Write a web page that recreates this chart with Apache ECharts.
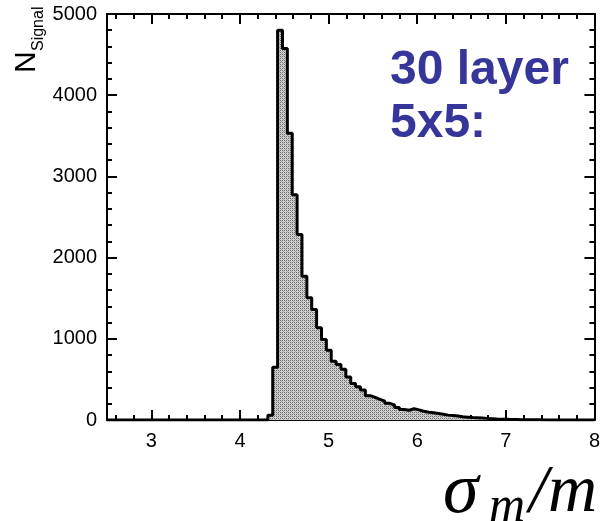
<!DOCTYPE html>
<html>
<head>
<meta charset="utf-8">
<script src="https://cdn.jsdelivr.net/npm/echarts@6/dist/echarts.min.js"></script>
<style>
html,body{margin:0;padding:0;background:#fff;}
#chart{width:603px;height:521px;}
</style>
</head>
<body>
<div id="chart"></div>
<script>
// Histogram definition: 100 bins from 2.5 to 8
const xMin = 2.5;
const xMax = 8;
const binWidth = 0.055;
const counts = [
  0,0,0,0,0,0,0,0,0,0,
  0,0,0,0,0,0,0,0,0,0,
  0,0,0,0,0,0,0,0,0,0,
  0,0,0,60,650,4800,4575,3530,2775,2285,
  1770,1505,1360,1135,990,860,725,685,625,530,
  450,410,370,300,278,255,232,205,185,155,
  130,120,138,125,108,95,90,80,70,60,
  55,48,40,35,30,27,24,20,16,12,
  10,8,6,5,4,3,3,2,2,1,
  1,1,0,0,0,0,0,0,0,0
];
const xMajorTicks = [3,4,5,6,7,8];
const xMinorTicks = [2.6,2.8,3.2,3.4,3.6,3.8,4.2,4.4,4.6,4.8,5.2,5.4,5.6,5.8,6.2,6.4,6.6,6.8,7.2,7.4,7.6,7.8];
const yTicks = [0,1000,2000,3000,4000,5000];

const seriesData = counts.map((c, k) => [xMin + k * binWidth, c]);
seriesData.push([xMax, 0]);

// dotted fill pattern
const pat = document.createElement('canvas');
pat.width = 4; pat.height = 4;
const pc = pat.getContext('2d');
pc.fillStyle = '#d0d0d0'; pc.fillRect(0,0,4,4);
pc.fillStyle = '#6e6e6e';
pc.fillRect(0,0,1,1); pc.fillRect(2,2,1,1); pc.fillRect(2,0,1,1); pc.fillRect(0,2,1,1);
pc.fillStyle = '#a0a0a0';
pc.fillRect(1,1,1,1); pc.fillRect(3,3,1,1);

const chart = echarts.init(document.getElementById('chart'), null, {renderer:'canvas'});
const axisLineStyle = {color:'#000', width:2};
const labelFont = {color:'#000', fontSize:20, fontFamily:'"Liberation Sans", Arial, sans-serif'};

function xAxisDef(pos, ticks, len, withLine, withLabel){
  return {
    type:'value', min:xMin, max:xMax, position:pos,
    axisLine:{show:withLine, onZero:false, lineStyle:axisLineStyle},
    axisTick:{show:true, inside:true, length:len, customValues:ticks, lineStyle:{color:'#000', width:2}},
    axisLabel:withLabel ? Object.assign({show:true, customValues:xMajorTicks, margin:11, formatter:v => String(v)}, labelFont) : {show:false},
    splitLine:{show:false}
  };
}
function yAxisDef(pos, withLabel){
  return {
    type:'value', min:0, max:5000, interval:1000, position:pos,
    axisLine:{show:true, onZero:false, lineStyle:axisLineStyle},
    axisTick:{show:true, inside:true, length:10, lineStyle:{color:'#000', width:2}},
    minorTick:{show:true, splitNumber:5, length:5, lineStyle:{color:'#000', width:2}},
    axisLabel:withLabel ? Object.assign({show:true, margin:10, customValues:yTicks, formatter:v => String(v)}, labelFont) : {show:false},
    splitLine:{show:false}
  };
}

chart.setOption({
  animation:false,
  grid:{left:107, right:6, top:14, bottom:101, containLabel:false},
  xAxis:[
    xAxisDef('bottom', xMajorTicks, 10, true, true),
    xAxisDef('bottom', xMinorTicks, 5, false, false),
    xAxisDef('top', xMajorTicks, 10, true, false),
    xAxisDef('top', xMinorTicks, 5, false, false)
  ],
  yAxis:[ yAxisDef('left', true), yAxisDef('right', false) ],
  series:[{
    type:'line', step:'end', xAxisIndex:0, yAxisIndex:0,
    data:seriesData, symbol:'none',
    lineStyle:{color:'#000', width:3},
    areaStyle:{color:{image:pat, repeat:'repeat'}, opacity:1}
  }],
  graphic:[
    {type:'text', x:390, y:47, style:{text:'30 layer', fill:'#35359a', font:'bold 48px "Liberation Sans", Arial, sans-serif', verticalAlign:'top'}},
    {type:'text', x:390, y:100, style:{text:'5x5:', fill:'#35359a', font:'bold 48px "Liberation Sans", Arial, sans-serif', verticalAlign:'top'}},
    {type:'group', x:12, y:73, rotation:Math.PI/2, children:[
      {type:'text', x:0, y:0, style:{text:'N', fill:'#000', font:'30px "Liberation Sans", Arial, sans-serif', verticalAlign:'top'}},
      {type:'text', x:22, y:19, style:{text:'Signal', fill:'#000', font:'16px "Liberation Sans", Arial, sans-serif', verticalAlign:'top'}}
    ]},
    {type:'text', x:443, y:457, style:{text:'σ', fill:'#000', font:'italic 72px "Liberation Serif", "Times New Roman", serif', verticalAlign:'top'}},
    {type:'text', x:489, y:483, style:{text:'m', fill:'#000', font:'italic 50px "Liberation Serif", "Times New Roman", serif', verticalAlign:'top'}},
    {type:'text', x:529, y:459, style:{text:'/m', fill:'#000', font:'italic 68px "Liberation Serif", "Times New Roman", serif', verticalAlign:'top'}}
  ]
});
</script>
</body>
</html>
